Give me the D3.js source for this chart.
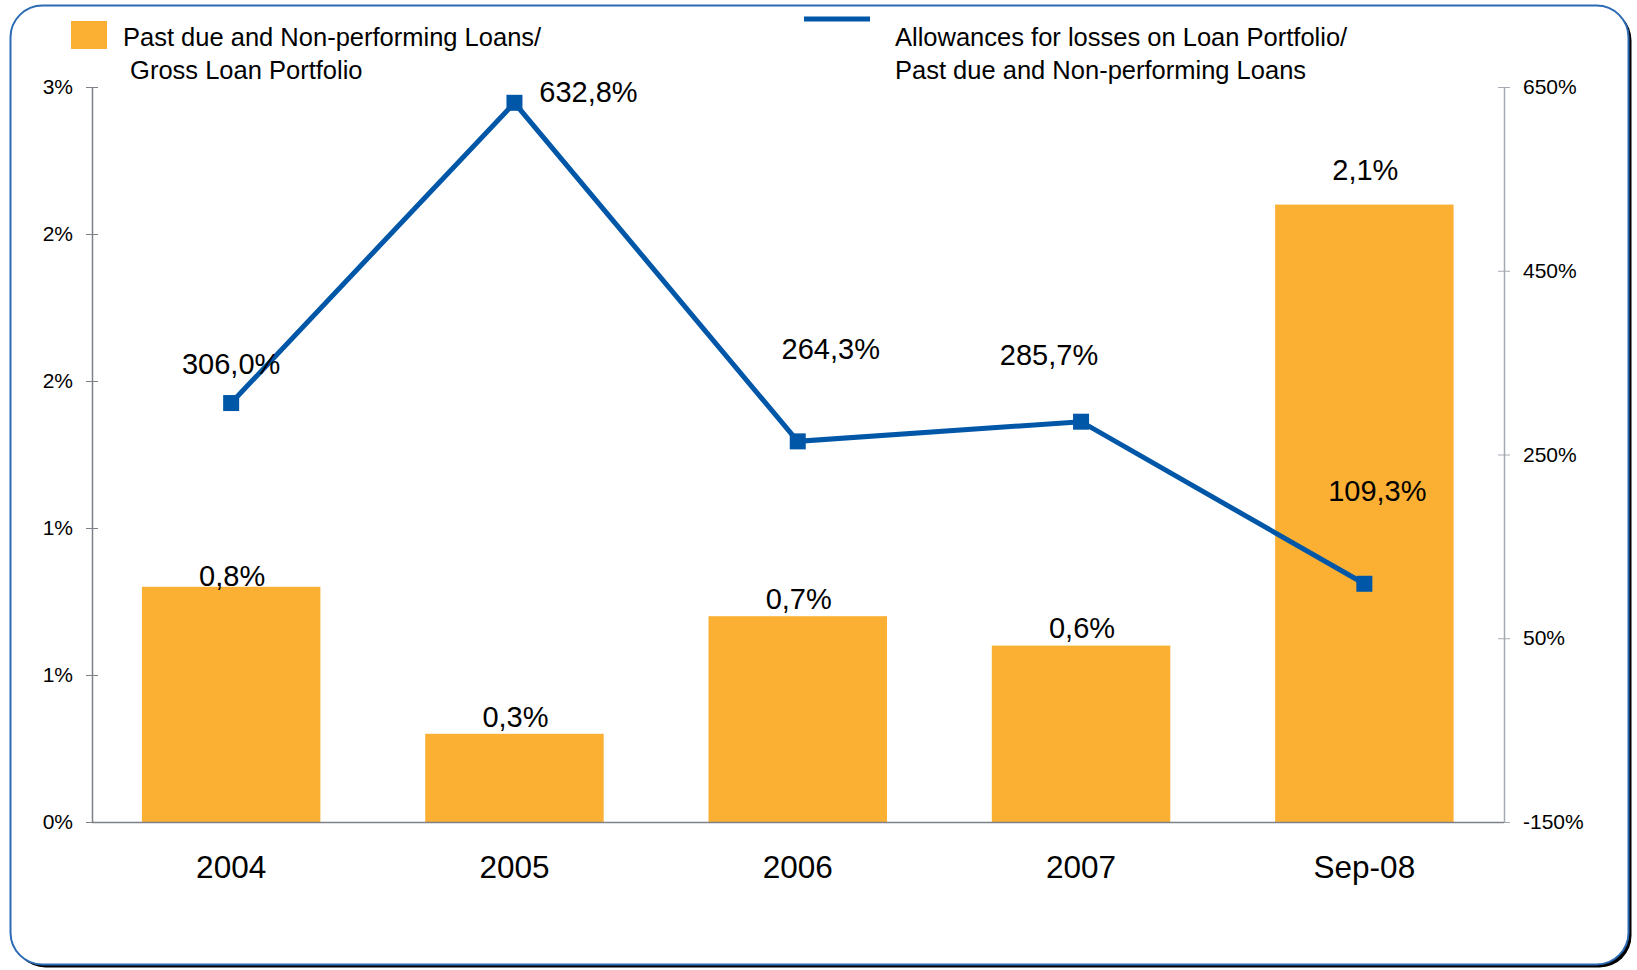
<!DOCTYPE html>
<html>
<head>
<meta charset="utf-8">
<script src="https://cdn.jsdelivr.net/npm/d3@7"></script>
<style>
  body { margin: 0; background: #fff; }
  svg text { font-family: "Liberation Sans", Arial, sans-serif; fill: #000; }
</style>
</head>
<body>
<div id="chart"></div>
<script>

// data
var categories = ["2004", "2005", "2006", "2007", "Sep-08"];
var pastDueRatio = [0.008, 0.003, 0.007, 0.006, 0.021];      // left axis
var allowanceRatio = [306.0, 632.8, 264.3, 285.7, 109.3];    // right axis, %

var leftTicks = [0, 0.005, 0.01, 0.015, 0.02, 0.025];
var leftTickLabels = ["0%", "1%", "1%", "2%", "2%", "3%"];
var rightTicks = [-150, 50, 250, 450, 650];
var rightTickLabels = ["-150%", "50%", "250%", "450%", "650%"];

var barLegend = ["Past due and Non-performing Loans/", " Gross Loan Portfolio"];
var lineLegend = ["Allowances for losses on Loan Portfolio/", "Past due and Non-performing Loans"];

// hand placed label nudges (the original labels are not uniformly placed)
var barLabelDy = [-1, -7, -7, -8, -25];
var lineLabelNudge = [[0, -39], [74, -11], [33, -93], [-32, -67], [13, -93]];

var W = 1637, H = 970;
var plot = { left: 92, right: 1504, top: 87, bottom: 822 };

var comma = d3.formatLocale({ decimal: ",", thousands: ".", grouping: [3], currency: ["", ""] });
var fmtBar = comma.format(".1%");
var fmtLine = function (v) { return comma.format(".1f")(v) + "%"; };

var svg = d3.select("#chart").append("svg")
  .attr("width", W)
  .attr("height", H);

// frame with a little shadow
svg.append("rect")
  .attr("x", 13.5).attr("y", 8.5)
  .attr("width", 1618).attr("height", 959)
  .attr("rx", 32).attr("ry", 32)
  .attr("fill", "#000");
svg.append("rect")
  .attr("x", 10.5).attr("y", 5.5)
  .attr("width", 1618).attr("height", 959)
  .attr("rx", 32).attr("ry", 32)
  .attr("fill", "#fff")
  .attr("stroke", "#2c6bb3")
  .attr("stroke-width", 2);

// bands are a touch wider than the axes span in the original
var x = d3.scaleBand()
  .domain(categories)
  .range([89.5, 1506])
  .paddingInner(0.37)
  .paddingOuter(0.185);

var yLeft = d3.scaleLinear().domain([0, 0.025]).range([plot.bottom, plot.top]);
var yRight = d3.scaleLinear().domain([-150, 650]).range([plot.bottom, plot.top]);

// bars
svg.selectAll(".bar")
  .data(pastDueRatio)
  .enter().append("rect")
  .attr("class", "bar")
  .attr("x", function (d, i) { return x(categories[i]); })
  .attr("width", x.bandwidth())
  .attr("y", function (d) { return yLeft(d); })
  .attr("height", function (d) { return plot.bottom - yLeft(d); })
  .attr("fill", "#fbb034");

// left axis
var leftAxis = svg.append("g")
  .attr("transform", "translate(" + plot.left + ",0)")
  .call(d3.axisLeft(yLeft)
    .tickValues(leftTicks)
    .tickFormat(function (d, i) { return leftTickLabels[i]; })
    .tickSizeInner(6).tickSizeOuter(0).tickPadding(13));
leftAxis.selectAll(".tick line").attr("x2", 6).attr("x1", -6);

// right axis
var rightAxis = svg.append("g")
  .attr("transform", "translate(" + plot.right + ",0)")
  .call(d3.axisRight(yRight)
    .tickValues(rightTicks)
    .tickFormat(function (d, i) { return rightTickLabels[i]; })
    .tickSizeInner(6).tickSizeOuter(0).tickPadding(13));
rightAxis.selectAll(".tick line").attr("x1", -6).attr("x2", 6);

leftAxis.select(".domain").attr("stroke", "#7d8087").attr("stroke-width", 1.5);
leftAxis.selectAll(".tick line").attr("stroke", "#7d8087");
rightAxis.select(".domain").attr("stroke", "#a3aab1").attr("stroke-width", 1.5);
rightAxis.selectAll(".tick line").attr("stroke", "#a3aab1");
svg.selectAll(".tick text")
  .style("font-size", "21px")
  .style("font-family", "'Liberation Sans', Arial, sans-serif")
  .attr("fill", "#000");

// bottom axis
var bottomAxis = svg.append("g")
  .attr("transform", "translate(0," + plot.bottom + ")")
  .call(d3.axisBottom(x).tickSize(0).tickPadding(34));
bottomAxis.select(".domain")
  .attr("d", "M" + plot.left + ",0.5H" + plot.right)
  .attr("stroke", "#7d8087").attr("stroke-width", 1.5);
bottomAxis.selectAll(".tick text")
  .style("font-size", "31.5px")
  .style("font-family", "'Liberation Sans', Arial, sans-serif")
  .attr("fill", "#000");

// bar labels
svg.selectAll(".barLabel")
  .data(pastDueRatio)
  .enter().append("text")
  .attr("class", "barLabel")
  .attr("x", function (d, i) { return x(categories[i]) + x.bandwidth() / 2 + 1; })
  .attr("y", function (d, i) { return yLeft(d) + barLabelDy[i]; })
  .attr("text-anchor", "middle")
  .style("font-size", "29px")
  .text(function (d) { return fmtBar(d); });

// line
var cx = function (i) { return x(categories[i]) + x.bandwidth() / 2; };
var line = d3.line()
  .x(function (d, i) { return cx(i); })
  .y(function (d) { return yRight(d); });

svg.append("path")
  .datum(allowanceRatio)
  .attr("d", line)
  .attr("fill", "none")
  .attr("stroke", "#0057a8")
  .attr("stroke-width", 5)
  .attr("stroke-linejoin", "miter");

svg.selectAll(".marker")
  .data(allowanceRatio)
  .enter().append("rect")
  .attr("class", "marker")
  .attr("x", function (d, i) { return cx(i) - 8; })
  .attr("y", function (d) { return yRight(d) - 8; })
  .attr("width", 16).attr("height", 16)
  .attr("fill", "#0057a8");

svg.selectAll(".lineLabel")
  .data(allowanceRatio)
  .enter().append("text")
  .attr("class", "lineLabel")
  .attr("x", function (d, i) { return cx(i) + lineLabelNudge[i][0]; })
  .attr("y", function (d, i) { return yRight(d) + lineLabelNudge[i][1]; })
  .attr("dy", "0.35em")
  .attr("text-anchor", "middle")
  .style("font-size", "29px")
  .text(function (d) { return fmtLine(d); });

// legend
svg.append("rect")
  .attr("x", 71).attr("y", 21)
  .attr("width", 36).attr("height", 28)
  .attr("fill", "#fbb034");
svg.append("text")
  .attr("x", 123).attr("y", 45.5)
  .style("font-size", "25.5px")
  .text(barLegend[0]);
svg.append("text")
  .attr("x", 123).attr("y", 79)
  .style("font-size", "25.5px")
  .attr("xml:space", "preserve")
  .style("white-space", "pre")
  .text(barLegend[1]);

svg.append("line")
  .attr("x1", 804).attr("x2", 870)
  .attr("y1", 19).attr("y2", 19)
  .attr("stroke", "#0057a8")
  .attr("stroke-width", 5);
svg.append("text")
  .attr("x", 895).attr("y", 45.5)
  .style("font-size", "25.5px")
  .text(lineLegend[0]);
svg.append("text")
  .attr("x", 895).attr("y", 79)
  .style("font-size", "25.5px")
  .text(lineLegend[1]);

</script>
</body>
</html>
